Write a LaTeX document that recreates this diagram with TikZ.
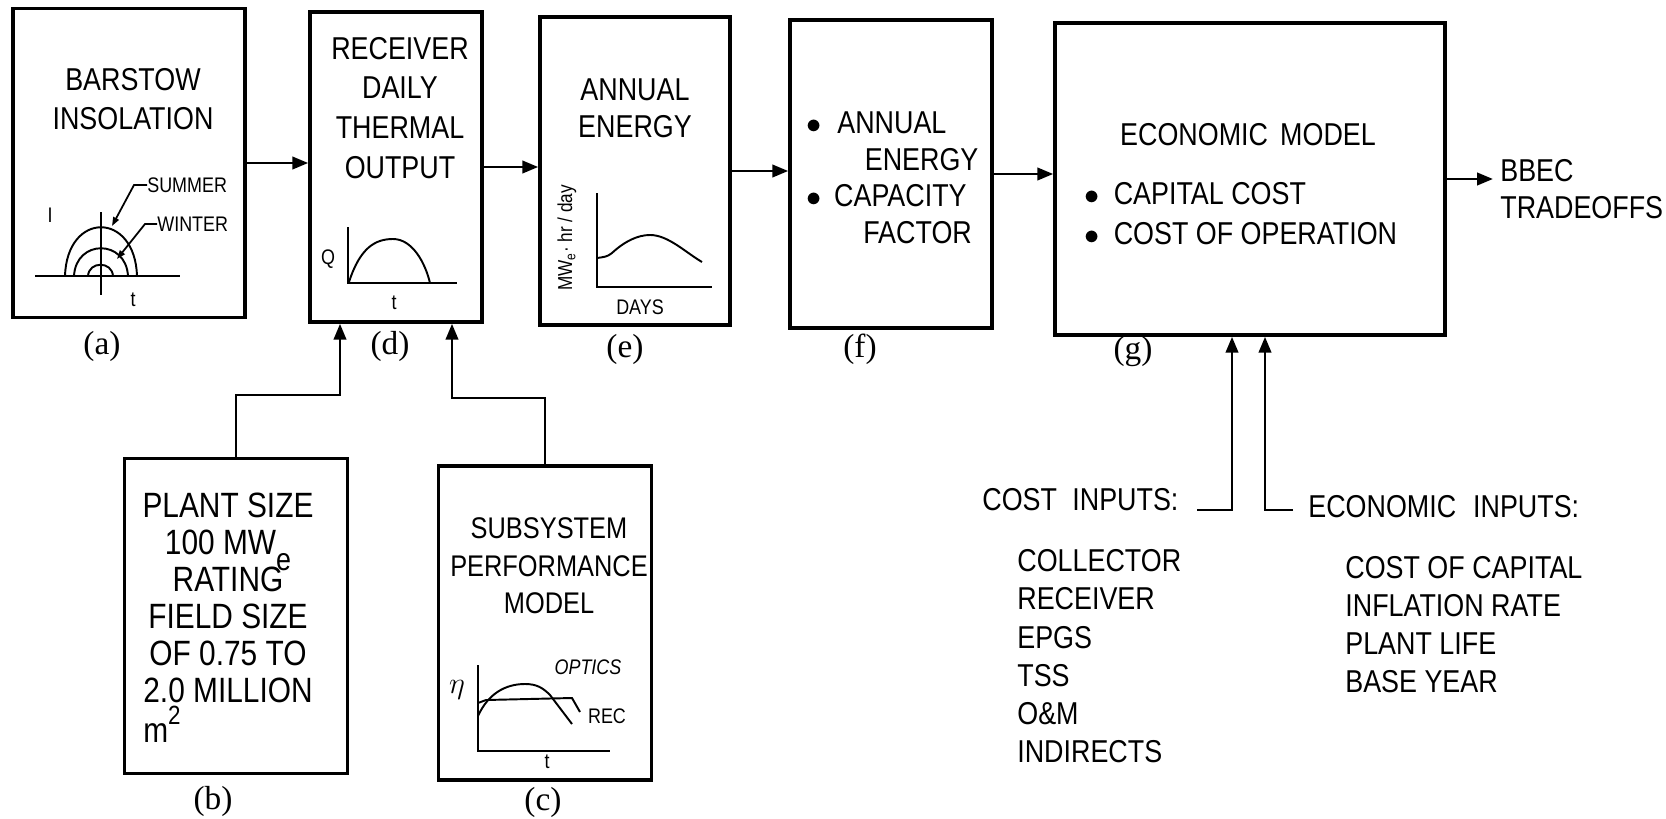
\documentclass[tikz,border=0pt]{standalone}
\usepackage{fontspec}
\setsansfont[FakeStretch=0.85]{Liberation Sans}
\newfontfamily\serifa{Liberation Serif}
\usetikzlibrary{arrows.meta}

\tikzset{
    bloco/.style 2 args={draw, line width=2pt, minimum width=#1*0.02cm, minimum height=#2*0.02cm, inner sep=0pt},
    texto/.style={font=\sffamily\fontsize{18}{22}\selectfont, align=center, inner sep=0pt},
    lista/.style={texto, align=left},
    rotulo/.style={font=\serifa\fontsize{19}{19}\selectfont, inner sep=0pt},
    miudo/.style={font=\sffamily\fontsize{12}{12}\selectfont, inner sep=0pt},
    seta/.style={line width=1.6pt, -{Triangle[length=9pt,width=7pt]}},
    guia/.style={line width=1pt, -{Triangle[length=5pt,width=3.5pt]}},
    curva/.style={line width=1.1pt},
}

\begin{document}
\begin{tikzpicture}[x=0.02cm, y=-0.02cm]
    \useasboundingbox (0,0) rectangle (1666,818);

    % Blocos
    \node[bloco={232}{309}] (a) at (129,163) {};
    \node[bloco={172}{310}] (d) at (396,167) {};
    \node[bloco={190}{308}] (e) at (635,171) {};
    \node[bloco={202}{308}] (f) at (891,174) {};
    \node[bloco={390}{312}] (g) at (1250,179) {};
    \node[bloco={223}{315}] (b) at (236,616) {};
    \node[bloco={213}{314}] (c) at (545,623) {};

    % Textos dos blocos
    \node[texto] (ta) at (133,99) {BARSTOW\\INSOLATION};
    \node[texto, font=\sffamily\fontsize{18}{22.7}\selectfont] (td) at (400,108) {RECEIVER\\DAILY\\THERMAL\\OUTPUT};
    \node[texto, font=\sffamily\fontsize{18}{21}\selectfont] (te) at (635,108) {ANNUAL\\ENERGY};
    \node[lista, anchor=north west, font=\sffamily\fontsize{18}{21}\selectfont] (tf) at (806,111)
        {$\bullet$\hspace{0.5em}ANNUAL\\\hspace*{1.85em}ENERGY\\$\bullet$\hspace{0.4em}CAPACITY\\\hspace*{1.8em}FACTOR};
    \node[texto] (tg) at (1248,135) {ECONOMIC\hspace{0.15em} MODEL};
    \node[lista, anchor=north west, font=\sffamily\fontsize{18}{22.7}\selectfont] (tg2) at (1084,182)
        {$\bullet$\hspace{0.45em}CAPITAL COST\\$\bullet$\hspace{0.45em}COST OF OPERATION};
    \node[texto, font=\sffamily\fontsize{20}{21}\selectfont] (tb) at (228,598)
        {PLANT SIZE\\100 MW\raisebox{-0.45em}[0pt][0pt]{\fontsize{18}{18}\selectfont e}\\RATING\\FIELD SIZE\\OF 0.75 TO\\2.0 MILLION};
    \node[texto, font=\sffamily\fontsize{20}{20}\selectfont, anchor=base west] (tb2) at (143,742)
        {m\raisebox{0.5em}[0pt][0pt]{\fontsize{15}{15}\selectfont 2}};
    \node[texto, font=\sffamily\fontsize{17}{21.4}\selectfont] (tc) at (549,566) {SUBSYSTEM\\PERFORMANCE\\MODEL};

    % Saida
    \node[lista, anchor=north west, font=\sffamily\fontsize{18}{21}\selectfont] (saida) at (1500,159) {BBEC\\TRADEOFFS};

    % Entradas do modelo economico
    \node[texto, anchor=west] (custo) at (982,500) {COST\hspace{0.25em} INPUTS:};
    \node[texto, anchor=west] (economia) at (1308,507) {ECONOMIC\hspace{0.3em} INPUTS:};
    \node[lista, anchor=north west, font=\sffamily\fontsize{18}{21.8}\selectfont] (custos) at (1017,549)
        {COLLECTOR\\RECEIVER\\EPGS\\TSS\\O\&M\\INDIRECTS};
    \node[lista, anchor=north west, font=\sffamily\fontsize{18}{21.6}\selectfont] (economicos) at (1345,556)
        {COST OF CAPITAL\\INFLATION RATE\\PLANT LIFE\\BASE YEAR};

    % Rotulos (a) a (g)
    \node[rotulo] (la) at (102,346) {(a)};
    \node[rotulo] (ld) at (390,346) {(d)};
    \node[rotulo] (le) at (625,349) {(e)};
    \node[rotulo] (lf) at (860,349) {(f)};
    \node[rotulo] (lg) at (1133,352) {(g)};
    \node[rotulo] (lb) at (213,801) {(b)};
    \node[rotulo] (lc) at (543,802) {(c)};

    % Grafico (a)
    \draw[curva] (35,276) -- (180,276);
    \draw[curva] (101,212) -- (101,295);
    \draw[curva] (65,276) .. controls (67,211) and (135,211) .. (137,276);
    \draw[curva] (74,276) .. controls (76,239) and (126,239) .. (128,276);
    \draw[curva] (88,276) .. controls (89,261) and (112,261) .. (113,276);
    \node[miudo] (ia) at (50,215) {I};
    \node[miudo] (tta) at (133,300) {t};
    \node[miudo, anchor=west] (verao) at (147,185) {SUMMER};
    \node[miudo, anchor=west] (inverno) at (157,224) {WINTER};
    \coordinate (pico) at (112,226);
    \coordinate (meio) at (117,259);
    \draw[guia] (verao.west) -- ++(-13,0) -- (pico);
    \draw[guia] (inverno.west) -- ++(-12,0) -- (meio);

    % Grafico (d)
    \draw[curva] (348,227) -- (348,283) -- (457,283);
    \draw[curva] (349,282) .. controls (360,248) and (375,239) .. (393,239)
        .. controls (412,239) and (425,262) .. (430,283);
    \node[miudo] (qd) at (328,259) {Q};
    \node[miudo] (ttd) at (394,303) {t};

    % Grafico (e)
    \draw[curva] (597,193) -- (597,287) -- (712,287);
    \draw[curva] (597,258) .. controls (604,257) and (607,257) .. (612,253)
        .. controls (625,241) and (638,235) .. (650,235)
        .. controls (668,235) and (685,252) .. (702,262);
    \node[miudo, rotate=90, font=\sffamily\fontsize{11.5}{12}\selectfont] (ye) at (567,238) {MW\textsubscript{e}· hr / day};
    \node[miudo] (dias) at (640,307) {DAYS};

    % Grafico (c)
    \draw[curva] (478,665) -- (478,751) -- (610,751);
    \draw[curva] (478,703) -- (486,700) -- (572,698) -- (580,712);
    \draw[curva] (478,716) .. controls (488,694) and (505,684) .. (525,684)
        .. controls (537,684) and (543,688) .. (550,695) -- (572,724);
    \node[inner sep=0pt, font=\fontsize{16}{16}\selectfont] (eta) at (457,690) {$\eta$};
    \node[miudo, font=\sffamily\itshape\fontsize{12}{12}\selectfont] (optica) at (588,667) {OPTICS};
    \node[miudo] (rec) at (607,716) {REC};
    \node[miudo] (ttc) at (547,762) {t};

    % Ligacoes entre blocos
    \draw[seta] (a.east) -- (d.west |- a.east);
    \draw[seta] (d.east) -- (e.west |- d.east);
    \draw[seta] (e.east) -- (f.west |- e.east);
    \draw[seta] (f.east) -- (g.west |- f.east);
    \draw[seta, shorten >=4pt] (g.east) -- (saida.west |- g.east);

    % Entradas de (d)
    \coordinate (joelho1) at (340,395);
    \coordinate (joelho2) at (452,398);
    \draw[seta] (b.north) |- (joelho1) -- (joelho1 |- d.south);
    \draw[seta] (c.north) |- (joelho2) -- (joelho2 |- d.south);

    % Entradas de (g)
    \coordinate (inicio1) at (1197,510);
    \coordinate (joelho3) at (1232,510);
    \coordinate (inicio2) at (1293,510);
    \coordinate (joelho4) at (1265,510);
    \draw[seta] (inicio1) -- (joelho3) -- (joelho3 |- g.south);
    \draw[seta] (inicio2) -- (joelho4) -- (joelho4 |- g.south);

\end{tikzpicture}
\end{document}
